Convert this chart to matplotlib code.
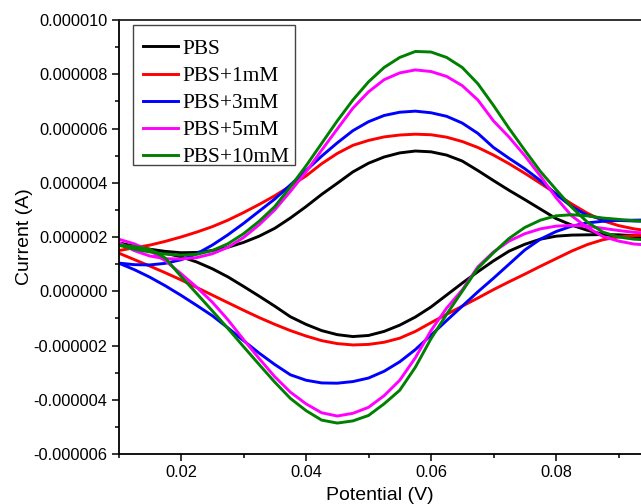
import matplotlib
matplotlib.use("Agg")
import matplotlib.pyplot as plt
from matplotlib.patches import Rectangle
from matplotlib.ticker import MultipleLocator, FuncFormatter

# Potential grid (V), shared by forward and reverse branches
potential = [0.0100, 0.0125, 0.0150, 0.0175, 0.0200, 0.0225, 0.0250, 0.0275, 0.0300,
             0.0325, 0.0350, 0.0375, 0.0400, 0.0425, 0.0450, 0.0475, 0.0500, 0.0525,
             0.0550, 0.0575, 0.0600, 0.0625, 0.0650, 0.0675, 0.0700, 0.0725, 0.0750,
             0.0775, 0.0800, 0.0825, 0.0850, 0.0875, 0.0900, 0.0925, 0.0950]

labels = ["PBS", "PBS+1mM", "PBS+3mM", "PBS+5mM", "PBS+10mM"]
colors = ["#000000", "#ff0000", "#0000ff", "#ff00ff", "#008000"]

# Current (uA) - forward (upper) branches
up_pbs = [1.78, 1.66, 1.55, 1.47, 1.42, 1.43, 1.50, 1.62, 1.80, 2.03, 2.32, 2.70, 3.12,
          3.57, 3.98, 4.40, 4.72, 4.95, 5.10, 5.17, 5.14, 5.02, 4.80, 4.45, 4.08, 3.72,
          3.38, 3.03, 2.68, 2.44, 2.25, 2.10, 2.03, 1.97, 1.94]
up_1mm = [1.50, 1.60, 1.70, 1.84, 2.00, 2.18, 2.38, 2.62, 2.90, 3.20, 3.52, 3.88, 4.25,
          4.70, 5.08, 5.38, 5.56, 5.69, 5.76, 5.79, 5.77, 5.68, 5.52, 5.30, 5.02, 4.70,
          4.35, 3.98, 3.60, 3.22, 2.88, 2.60, 2.42, 2.30, 2.22]
up_3mm = [1.04, 0.98, 0.97, 1.03, 1.16, 1.38, 1.70, 2.08, 2.50, 2.95, 3.40, 3.92, 4.45,
          4.98, 5.47, 5.92, 6.25, 6.48, 6.60, 6.64, 6.58, 6.45, 6.20, 5.82, 5.30, 4.90,
          4.52, 4.08, 3.58, 3.12, 2.80, 2.66, 2.61, 2.59, 2.58]
up_5mm = [1.80, 1.50, 1.30, 1.20, 1.19, 1.24, 1.38, 1.62, 1.98, 2.45, 3.00, 3.68, 4.40,
          5.20, 5.98, 6.75, 7.35, 7.80, 8.05, 8.16, 8.10, 7.92, 7.58, 7.05, 6.28, 5.68,
          5.00, 4.25, 3.45, 2.78, 2.35, 2.02, 1.85, 1.74, 1.70]
up_10mm = [1.70, 1.55, 1.45, 1.37, 1.33, 1.36, 1.50, 1.75, 2.12, 2.58, 3.12, 3.85, 4.62,
           5.45, 6.28, 7.05, 7.72, 8.25, 8.62, 8.84, 8.82, 8.62, 8.25, 7.65, 6.85, 6.00,
           5.20, 4.42, 3.75, 3.10, 2.55, 2.18, 2.00, 1.92, 1.89]

# Current (uA) - reverse (lower) branches
lo_pbs = [1.78, 1.63, 1.50, 1.40, 1.27, 1.08, 0.83, 0.53, 0.18, -0.18, -0.55, -0.94, -1.22,
          -1.45, -1.60, -1.67, -1.63, -1.48, -1.25, -0.95, -0.58, -0.14, 0.30, 0.72, 1.12,
          1.48, 1.73, 1.92, 2.03, 2.07, 2.08, 2.09, 2.08, 2.05, 2.03]
lo_1mm = [1.41, 1.17, 0.93, 0.68, 0.42, 0.14, -0.14, -0.42, -0.70, -0.97, -1.22, -1.45, -1.65,
          -1.82, -1.93, -1.98, -1.96, -1.88, -1.73, -1.48, -1.16, -0.85, -0.55, -0.25, 0.06,
          0.35, 0.63, 0.92, 1.20, 1.48, 1.72, 1.90, 2.00, 2.05, 2.07]
lo_3mm = [1.04, 0.80, 0.52, 0.20, -0.15, -0.52, -0.90, -1.35, -1.82, -2.28, -2.70, -3.08, -3.28,
          -3.38, -3.39, -3.33, -3.20, -2.95, -2.60, -2.15, -1.62, -1.08, -0.55, -0.02, 0.48,
          1.00, 1.52, 1.92, 2.20, 2.40, 2.52, 2.58, 2.61, 2.62, 2.63]
lo_5mm = [1.92, 1.75, 1.50, 1.12, 0.65, 0.15, -0.40, -1.05, -1.78, -2.48, -3.15, -3.72, -4.15,
          -4.48, -4.60, -4.50, -4.28, -3.85, -3.28, -2.45, -1.45, -0.62, 0.05, 0.90, 1.45,
          1.85, 2.12, 2.30, 2.40, 2.43, 2.40, 2.32, 2.24, 2.17, 2.14]
lo_10mm = [1.70, 1.65, 1.55, 1.22, 0.55, -0.08, -0.72, -1.37, -2.04, -2.70, -3.35, -3.95, -4.40,
           -4.75, -4.86, -4.78, -4.58, -4.15, -3.65, -2.80, -1.75, -0.85, 0.00, 0.85, 1.42,
           1.95, 2.35, 2.62, 2.78, 2.82, 2.78, 2.70, 2.65, 2.60, 2.58]

uppers = [up_pbs, up_1mm, up_3mm, up_5mm, up_10mm]
lowers = [lo_pbs, lo_1mm, lo_3mm, lo_5mm, lo_10mm]

W, H = 641, 504
fig = plt.figure(figsize=(W / 100, H / 100), dpi=100)
ax = fig.add_axes([118.5 / W, 1 - 454 / H, 1 - 118.5 / W, (454 - 20) / H])

for lab, col, up, lo in zip(labels, colors, uppers, lowers):
    xs = list(potential) + list(reversed(potential))
    ys = [v * 1e-6 for v in up] + [v * 1e-6 for v in reversed(lo)]
    ax.plot(xs, ys, color=col, lw=2.1, label=lab, solid_joinstyle="round")

ax.set_xlim(0.01, 0.01 + (W - 118.5) / 6250)
ax.set_ylim(-6e-6, 10e-6)

ax.xaxis.set_major_locator(MultipleLocator(0.02))
ax.xaxis.set_minor_locator(MultipleLocator(0.01))
ax.yaxis.set_major_locator(MultipleLocator(2e-6))
ax.yaxis.set_minor_locator(MultipleLocator(1e-6))


def yfmt(v, pos):
    v = round(v * 1e6) / 1e6
    if abs(v) < 1e-12:
        v = 0.0
    return f"{v:.6f}"


def xfmt(v, pos):
    return f"{v:.2f}"


ax.yaxis.set_major_formatter(FuncFormatter(yfmt))
ax.xaxis.set_major_formatter(FuncFormatter(xfmt))

tickfont = "Liberation Sans"
for lbl in ax.get_xticklabels() + ax.get_yticklabels():
    lbl.set_fontfamily(tickfont)
ax.tick_params(axis="both", which="major", direction="out", length=5, width=1.1,
               labelsize=11.8, pad=3)
ax.tick_params(axis="both", which="minor", direction="out", length=3, width=1.1)
ax.tick_params(top=False, right=False, which="both")

for s in ["left", "bottom", "top"]:
    ax.spines[s].set_linewidth(1.3)
ax.spines["top"].set_color("#222222")
ax.spines["right"].set_visible(False)

ax.set_xlabel("Potential (V)", fontsize=14, fontfamily=tickfont, labelpad=5)
ax.set_ylabel("Current (A)", fontsize=14, fontfamily=tickfont, labelpad=0)

# legend entries (no frame) + separate frame box
leg = ax.legend(loc="upper left", bbox_to_anchor=(143 / W, 1 - 39 / H),
                bbox_transform=fig.transFigure,
                borderaxespad=0, prop={"family": "Liberation Serif", "size": 15.4},
                frameon=False, handlelength=1.64, handletextpad=0.19,
                labelspacing=0.33, borderpad=0)
frame = Rectangle((133 / W, 1 - 165 / H), (295 - 133) / W, (165 - 25) / H,
                  transform=fig.transFigure, fill=False, edgecolor="#444444",
                  linewidth=1.0, zorder=4)
fig.patches.append(frame)

fig.savefig("out.png", dpi=100)
